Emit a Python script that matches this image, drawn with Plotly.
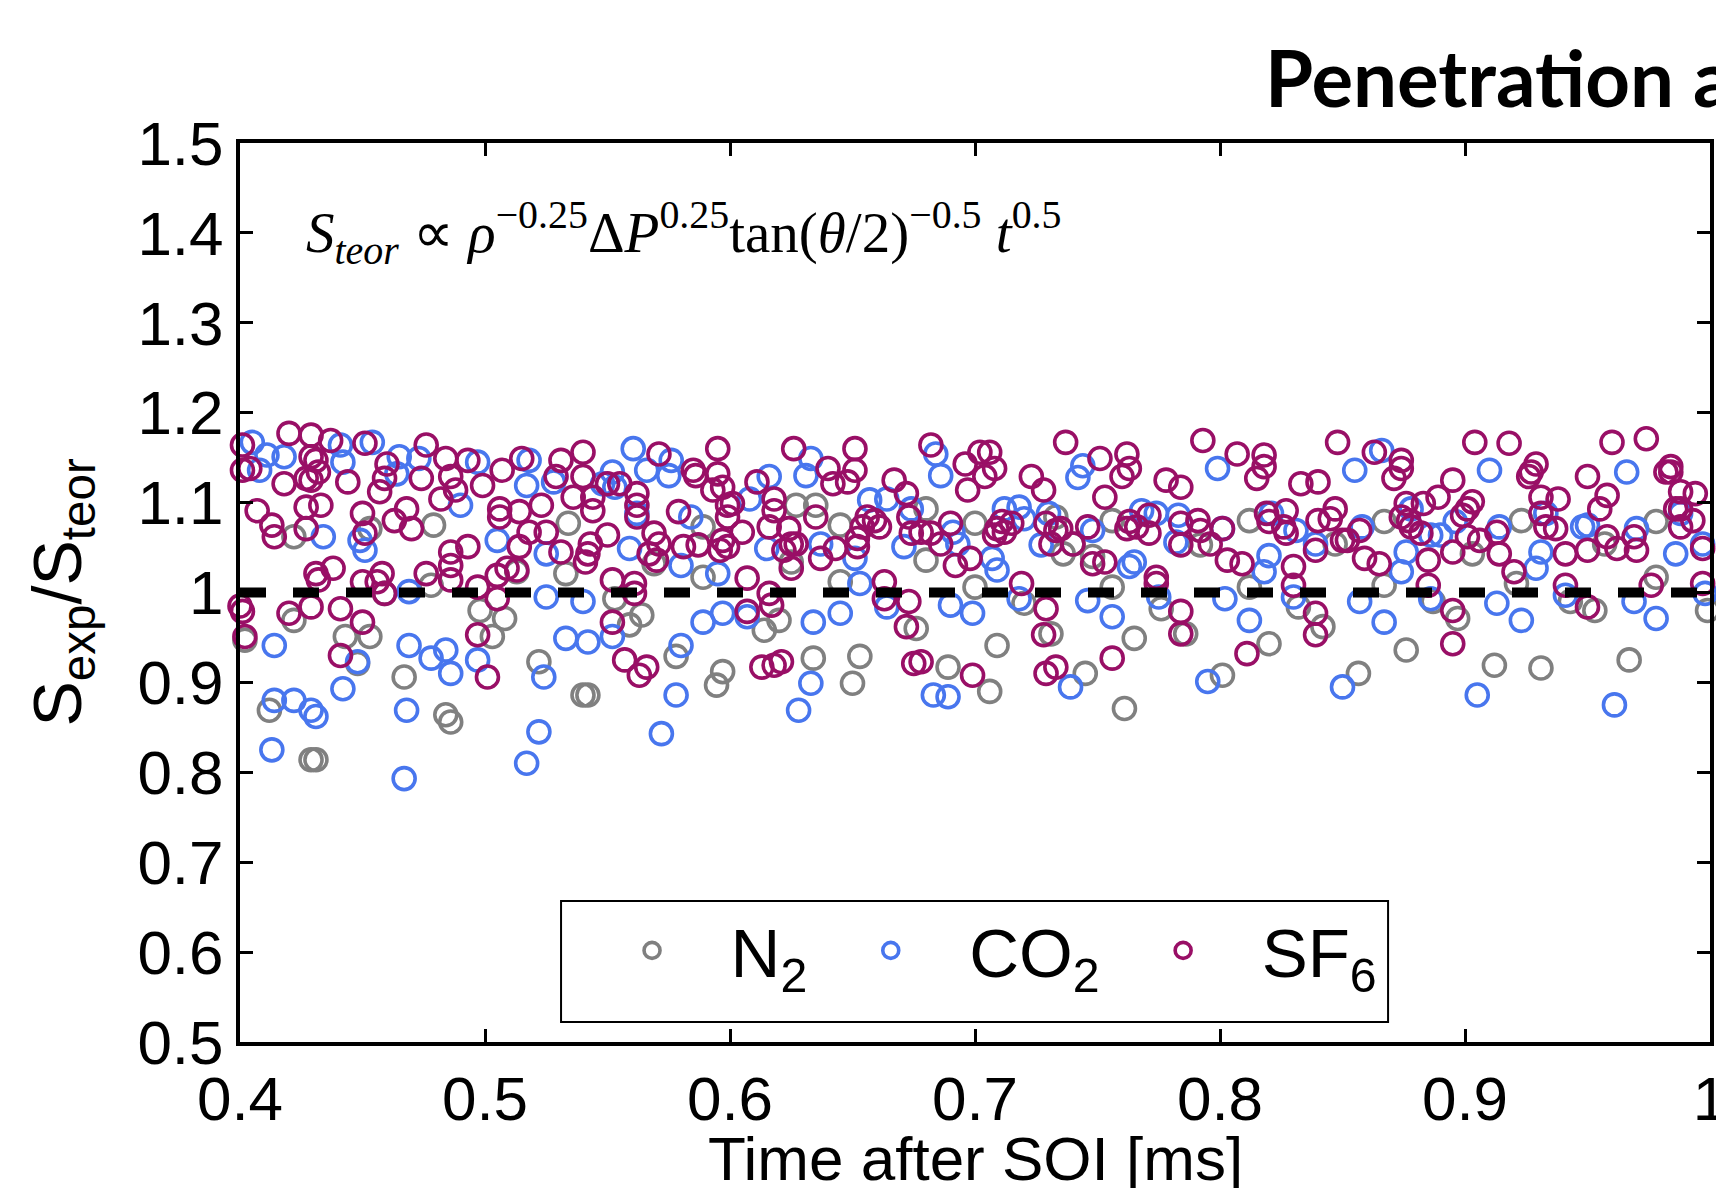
import plotly.graph_objects as go

# ---------------- data ----------------
n2_t = [0.422,0.479,0.402,0.422,0.443,0.453,0.448,0.412,0.429,0.431,0.467,0.484,0.486,0.498,0.508,0.503,
        0.522,0.540,0.542,0.533,0.534,0.513,0.478,0.459,0.553,0.453,
        0.559,0.564,0.569,0.578,0.589,0.589,0.597,0.5945,0.614,0.620,0.627,0.635,0.625,0.634,0.645,0.645,
        0.650,0.653,0.680,0.680,0.676,0.689,0.700,0.700,
        0.706,0.709,0.720,0.731,0.733,0.736,0.740,0.745,0.748,0.756,0.756,0.761,0.765,0.776,0.786,0.792,
        0.801,0.812,0.812,0.820,0.832,0.842,0.847,
        0.8565,0.867,0.867,0.876,0.887,0.897,0.903,0.912,0.923,0.921,0.931,0.943,0.953,0.957,0.967,0.978,
        0.978,0.999]
n2_r = [1.062,1.075,0.947,0.969,0.951,0.951,0.921,0.869,0.814,0.814,0.906,0.864,0.856,0.980,0.971,0.951,
        0.923,0.886,0.886,1.021,1.077,1.023,1.008,0.999,0.993,1.071,
        0.964,0.975,1.032,0.929,1.017,1.073,0.912,0.897,0.958,0.969,1.097,1.097,1.034,0.927,1.075,1.012,
        0.899,0.929,1.093,1.036,0.960,0.917,1.077,1.006,
        0.890,0.941,0.988,0.954,1.084,1.043,1.054,0.910,1.040,1.080,1.006,0.871,0.949,0.982,0.954,1.053,
        0.908,1.080,1.006,0.943,0.984,0.962,1.054,
        0.910,1.079,1.008,0.936,0.990,0.971,1.043,0.919,1.080,1.010,0.916,0.990,0.980,1.054,0.925,1.079,
        1.017,0.980]

co2_t = [0.405,0.411,0.418,0.408,0.441,0.442,0.454,0.465,0.464,0.473,0.497,0.518,0.517,0.528,0.548,0.490,
         0.434,0.449,0.451,0.505,0.525,0.469,0.525,0.540,0.533,0.542,0.552,0.414,0.469,0.478,0.484,0.486,
         0.497,0.448,0.442,0.524,0.414,0.422,0.429,0.431,0.468,0.522,0.413,0.517,0.467,
         0.5605,0.566,0.576,0.575,0.552,0.553,0.562,0.559,0.584,0.580,0.595,0.589,0.597,0.608,0.607,0.616,
         0.615,0.631,0.633,0.634,0.633,0.628,0.637,0.645,0.651,0.653,0.657,0.664,0.671,0.674,0.684,0.686,
         0.691,0.693,0.690,0.699,0.664,0.683,0.689,0.578,0.580,0.572,
         0.744,0.742,0.799,0.712,0.718,0.720,0.730,0.727,0.748,0.707,0.709,0.718,0.746,0.756,0.739,0.765,
         0.763,0.768,0.774,0.775,0.783,0.782,0.801,0.802,0.812,0.795,0.820,0.818,0.821,0.831,0.830,0.839,
         0.850,
         0.855,0.866,0.858,0.857,0.867,0.876,0.874,0.878,0.886,0.890,0.886,0.896,0.905,0.910,0.914,0.913,
         0.923,0.931,0.929,0.933,0.941,0.948,0.950,0.966,0.969,0.970,0.978,0.986,0.988,0.997,0.998,0.961]
co2_r = [1.167,1.153,1.151,1.136,1.164,1.145,1.167,1.151,1.132,1.149,1.145,1.147,1.119,1.123,1.121,1.097,
         1.062,1.058,1.047,1.058,1.043,1.001,0.995,0.990,0.949,0.945,0.951,0.941,0.941,0.927,0.936,0.910,
         0.925,0.923,0.893,0.906,0.880,0.880,0.869,0.862,0.869,0.845,0.825,0.810,0.793,
         1.160,1.136,1.147,1.130,1.134,1.117,1.088,1.049,1.084,1.030,1.021,0.967,0.977,1.104,0.973,1.129,
         1.049,1.130,1.149,0.967,0.899,0.869,1.054,0.977,1.038,1.010,1.103,1.104,1.051,1.093,1.154,1.130,
         1.067,1.054,0.986,0.977,0.984,0.886,0.884,0.886,0.941,0.843,
         1.141,1.128,1.138,1.093,1.095,1.082,1.088,1.053,1.069,1.038,1.025,0.993,0.991,0.973,0.895,1.034,
         1.029,1.091,1.088,0.995,1.086,1.056,1.071,0.993,0.969,0.901,1.041,1.023,1.088,1.069,0.995,1.054,
         0.895,
         1.136,1.158,1.073,0.990,0.967,1.045,1.023,1.093,1.064,1.064,0.993,1.079,0.886,1.136,1.073,0.988,
         0.969,1.045,1.027,1.088,0.997,1.073,1.075,1.134,0.990,1.071,0.971,1.043,1.088,1.054,0.999,0.875]

sf6_t = [0.401,0.401,0.404,0.420,0.429,0.437,0.451,0.429,0.431,0.432,0.429,0.427,0.418,0.444,0.460,0.459,
         0.457,0.476,0.474,0.484,0.486,0.488,0.482,0.493,0.499,0.507,0.515,0.531,0.529,0.540,0.540,0.536,
         0.544,0.544,0.407,0.413,0.414,0.427,0.433,0.427,0.450,0.451,0.463,0.468,0.470,0.506,0.506,0.514,
         0.523,0.518,0.525,0.531,0.543,0.542,0.541,0.550,0.514,0.486,0.493,0.486,0.486,0.476,0.431,0.432,
         0.438,0.450,0.458,0.456,0.459,0.429,0.420,0.441,0.450,0.497,0.505,0.509,0.513,0.505,0.400,0.401,
         0.402,0.441,0.497,0.501,
         0.571,0.595,0.626,0.651,0.682,0.696,0.697,0.702,0.550,0.555,0.562,0.562,0.562,0.585,0.586,0.595,
         0.593,0.597,0.599,0.601,0.599,0.605,0.611,0.618,0.618,0.616,0.579,0.569,0.571,0.567,0.570,0.581,
         0.587,0.597,0.596,0.599,0.624,0.625,0.622,0.627,0.625,0.635,0.637,0.643,0.640,0.642,0.648,0.651,
         0.656,0.654,0.659,0.661,0.652,0.652,0.667,0.672,0.673,0.674,0.678,0.682,0.686,0.690,0.692,0.698,
         0.663,0.663,0.673,0.672,0.675,0.678,0.699,0.552,0.561,0.561,0.552,0.607,0.616,0.617,0.607,0.557,
         0.563,0.566,0.613,0.618,0.621,
         0.706,0.708,0.704,0.737,0.723,0.728,0.751,0.762,0.763,0.760,0.753,0.778,0.784,0.793,0.807,0.818,
         0.818,0.815,0.833,0.840,0.848,0.711,0.709,0.708,0.715,0.712,0.729,0.733,0.735,0.731,0.740,0.746,
         0.748,0.753,0.763,0.766,0.771,0.771,0.762,0.784,0.784,0.791,0.792,0.796,0.801,0.803,0.809,0.819,
         0.820,0.826,0.827,0.827,0.830,0.830,0.839,0.840,0.847,0.845,0.850,0.719,0.729,0.728,0.729,0.733,
         0.756,0.774,0.774,0.784,0.784,0.811,0.839,0.839,
         0.863,0.874,0.874,0.871,0.904,0.918,0.929,0.927,0.926,0.950,0.960,0.974,0.984,0.984,0.982,0.988,
         0.994,0.895,0.889,0.883,0.876,0.874,0.877,0.878,0.882,0.903,0.901,0.899,0.857,0.852,0.859,0.865,
         0.885,0.895,0.901,0.906,0.913,0.914,0.920,0.931,0.938,0.931,0.933,0.937,0.941,0.955,0.958,0.950,
         0.958,0.962,0.969,0.970,0.986,0.988,0.988,0.993,0.997,0.997,0.885,0.895,0.895,0.941,0.950,0.976]
sf6_r = [1.164,1.136,1.138,1.177,1.175,1.169,1.166,1.151,1.147,1.134,1.125,1.127,1.121,1.123,1.143,1.127,
         1.112,1.164,1.127,1.149,1.129,1.114,1.104,1.147,1.119,1.136,1.149,1.147,1.129,1.156,1.129,1.106,
         1.106,1.091,1.091,1.075,1.062,1.095,1.097,1.071,1.088,1.066,1.080,1.093,1.071,1.093,1.084,1.090,
         1.097,1.067,1.067,1.045,1.054,1.043,1.034,1.064,1.051,1.045,1.051,1.030,1.014,1.021,1.021,1.014,
         1.027,1.012,1.021,1.012,0.999,0.984,0.977,0.982,0.967,1.006,1.019,1.027,1.025,0.993,0.985,0.979,
         0.951,0.930,0.953,0.906,
         1.154,1.160,1.160,1.160,1.164,1.143,1.114,1.156,1.121,1.121,1.110,1.097,1.084,1.136,1.130,1.132,
         1.114,1.117,1.097,1.099,1.084,1.067,1.123,1.104,1.091,1.073,1.090,1.066,1.054,1.043,1.036,1.051,
         1.053,1.058,1.047,1.051,1.071,1.054,1.047,1.054,1.027,1.084,1.038,1.049,1.138,1.121,1.123,1.136,
         1.084,1.073,1.080,1.073,1.060,1.051,1.125,1.110,1.084,1.066,1.067,1.066,1.054,1.077,1.030,1.038,
         1.012,0.993,0.990,0.962,0.921,0.923,0.908,1.014,1.010,0.999,0.967,1.016,0.999,0.986,0.979,0.925,
         0.908,0.917,0.917,0.919,0.923,
         1.156,1.138,1.129,1.167,1.129,1.114,1.149,1.154,1.138,1.129,1.106,1.125,1.117,1.169,1.154,1.153,
         1.140,1.127,1.121,1.123,1.167,1.079,1.071,1.064,1.077,1.067,1.077,1.069,1.071,1.054,1.054,1.073,
         1.032,1.034,1.079,1.073,1.086,1.066,1.071,1.077,1.053,1.080,1.069,1.054,1.071,1.036,1.032,1.088,
         1.079,1.073,1.091,1.066,1.029,1.008,1.047,1.080,1.093,1.082,1.058,1.010,0.982,0.953,0.910,0.917,
         0.927,1.017,1.010,0.979,0.954,0.932,0.977,0.953,
         1.156,1.147,1.138,1.127,1.167,1.166,1.143,1.134,1.129,1.129,1.167,1.171,1.140,1.134,1.134,1.112,
         1.110,1.125,1.106,1.099,1.099,1.084,1.080,1.073,1.066,1.101,1.093,1.086,1.069,1.058,1.038,1.032,
         1.036,1.045,1.062,1.058,1.067,1.043,1.023,1.106,1.104,1.088,1.073,1.071,1.043,1.093,1.108,1.047,
         1.062,1.049,1.062,1.047,1.093,1.093,1.073,1.080,1.049,1.010,1.008,0.980,0.943,1.008,0.984,1.008]

series_names = ["N<sub>2</sub>", "CO<sub>2</sub>", "SF<sub>6</sub>"]
series_colors = ["#808080", "#4876EE", "#990F66"]

x_ticks = [0.4, 0.5, 0.6, 0.7, 0.8, 0.9, 1.0]
x_ticktext = ["0.4", "0.5", "0.6", "0.7", "0.8", "0.9", "1"]
y_ticks = [0.5, 0.6, 0.7, 0.8, 0.9, 1.0, 1.1, 1.2, 1.3, 1.4, 1.5]
y_ticktext = ["0.5", "0.6", "0.7", "0.8", "0.9", "1", "1.1", "1.2", "1.3", "1.4", "1.5"]
reference_ratio = 1.0

# ---------------- figure ----------------
fig = go.Figure()
for xs, ys, name, col in zip([n2_t, co2_t, sf6_t], [n2_r, co2_r, sf6_r], series_names, series_colors):
    fig.add_trace(go.Scatter(
        x=xs, y=ys, mode="markers", name=name,
        marker=dict(symbol="circle-open", size=22, color=col, line=dict(width=3.6)),
        cliponaxis=False,
    ))

# legend frame (drawn as a shape so that the inner padding matches the reference)
fig.add_shape(type="rect", xref="paper", yref="paper", x0=0.2184, x1=0.781, y0=0.0222, y1=0.1568,
              line=dict(color="black", width=2), fillcolor="white", layer="below")

fig.add_shape(type="line", xref="x", yref="y", x0=x_ticks[0], x1=x_ticks[-1],
              y0=reference_ratio, y1=reference_ratio,
              line=dict(color="black", width=10, dash="26px,27px"))

SANS = "Liberation Sans, Arial, sans-serif"
axis_font = dict(family=SANS, size=62, color="black")
common = dict(showgrid=False, zeroline=False, ticks="inside", ticklen=13, tickwidth=3,
              tickcolor="black", showline=True, linewidth=4, linecolor="black",
              mirror="ticks", tickfont=axis_font, automargin=False)

fig.update_xaxes(range=[0.4, 1.0], tickvals=x_ticks, ticktext=x_ticktext,
                 ticklabelstandoff=0, ticklabeloverflow="allow", **common)
fig.update_yaxes(range=[0.5, 1.5], tickvals=y_ticks, ticktext=y_ticktext,
                 ticklabelstandoff=0, ticklabeloverflow="allow", **common)

# axis titles
fig.add_annotation(xref="paper", yref="paper", x=0.5, y=-0.0885, xanchor="center", yanchor="top",
                   text="Time after SOI [ms]", showarrow=False, font=axis_font)
fig.add_annotation(xref="paper", yref="paper", x=-0.1217, y=0.5, xanchor="center", yanchor="middle",
                   textangle=-90, text="S<sub>exp</sub>/S<sub>teor</sub>", showarrow=False,
                   font=dict(family=SANS, size=68, color="black"))

fig.add_annotation(
    xref="paper", yref="paper", x=0.0434, y=0.90, xanchor="left", yanchor="middle",
    text="<i>S</i><sub><i>teor</i></sub> \u221d <i>\u03c1</i><sup>\u22120.25</sup>\u0394<i>P</i><sup>0.25</sup>"
         "tan(<i>\u03b8</i>/2)<sup>\u22120.5</sup> <i>t</i><sup>0.5</sup>",
    showarrow=False, font=dict(family="Liberation Serif, serif", size=57, color="black"),
)
fig.add_annotation(
    xref="paper", yref="paper", x=0.6959, y=1.073, xanchor="left", yanchor="middle",
    text="<b>Penetration a</b>", showarrow=False,
    font=dict(family="Lato, sans-serif", size=78, color="black"),
)

# the page body adds an 8 px offset; the figure is sized so the plot area lands at 240..1710 x 143..1042
fig.update_layout(
    width=1716, height=1180,
    margin=dict(l=232, r=14, t=135, b=146, autoexpand=False),
    paper_bgcolor="white", plot_bgcolor="white",
    showlegend=True,
    legend=dict(orientation="h", x=0.2269, y=0.1590, xanchor="left", yanchor="top",
                itemwidth=147, borderwidth=0, bgcolor="rgba(0,0,0,0)", valign="bottom",
                font=dict(family=SANS, size=69, color="black")),
)

fig.write_html("out.html")
